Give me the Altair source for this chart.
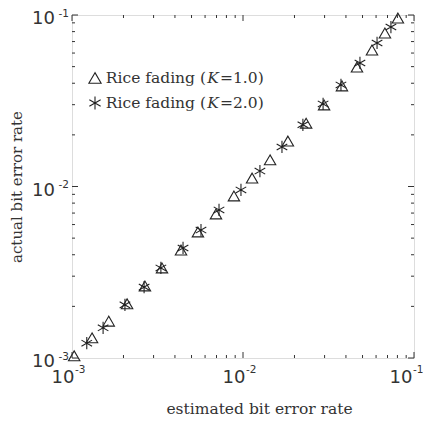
import altair as alt
import pandas as pd

# ---- data ----
tri_x = [1.03e-3, 1.31e-3, 1.64e-3, 2.10e-3, 2.67e-3, 3.36e-3, 4.34e-3, 5.45e-3, 6.95e-3, 8.85e-3,
         1.13e-2, 1.44e-2, 1.83e-2, 2.34e-2, 2.98e-2, 3.79e-2, 4.64e-2, 5.68e-2, 6.76e-2, 8.05e-2]
tri_y = [1.03e-3, 1.31e-3, 1.64e-3, 2.07e-3, 2.63e-3, 3.35e-3, 4.26e-3, 5.43e-3, 6.92e-3, 8.81e-3,
         1.12e-2, 1.43e-2, 1.84e-2, 2.34e-2, 2.99e-2, 3.86e-2, 4.97e-2, 6.25e-2, 7.85e-2, 9.6e-2]
ast_x = [1.22e-3, 1.52e-3, 2.04e-3, 2.64e-3, 3.31e-3, 4.46e-3, 5.68e-3, 7.24e-3, 9.73e-3,
         1.256e-2, 1.69e-2, 2.24e-2, 2.94e-2, 3.74e-2, 4.83e-2, 6.08e-2, 7.33e-2]
ast_y = [1.22e-3, 1.50e-3, 2.04e-3, 2.59e-3, 3.35e-3, 4.38e-3, 5.57e-3, 7.30e-3, 9.55e-3,
         1.23e-2, 1.70e-2, 2.29e-2, 3.03e-2, 3.91e-2, 5.25e-2, 6.87e-2, 8.51e-2]
series_names = ["Rice fading (K=1.0)", "Rice fading (K=2.0)"]
legend_pre = ["Rice fading (", "Rice fading ("]
legend_k = ["K", "K"]
legend_post = ["=1.0)", "=2.0)"]
major_ticks = [0.001, 0.01, 0.1]
major_base = ["10", "10", "10"]
major_exp = ["-3", "-2", "-1"]
minor_ticks = [m * 10.0 ** e for e in (-3, -2) for m in range(2, 10)]
x_title = "estimated bit error rate"
y_title = "actual bit error rate"

W, H = 342, 343
MAJ, MIN = 6, 3
INK = "#333333"
ASTERISK = "M0,-1L0,1M-0.866,-0.5L0.866,0.5M-0.866,0.5L0.866,-0.5"

xs = alt.Scale(type="log", domain=[0.001, 0.1], nice=False)
ys = alt.Scale(type="log", domain=[0.001, 0.1], nice=False)

pts = pd.DataFrame({
    "x": tri_x + ast_x,
    "y": tri_y + ast_y,
    "s": [series_names[0]] * len(tri_x) + [series_names[1]] * len(ast_x),
})

points = alt.Chart(pts).mark_point(filled=False, strokeWidth=1.1, color="#222222", opacity=1).encode(
    x=alt.X("x:Q", scale=xs, axis=alt.Axis(
        values=major_ticks, labels=False, ticks=False, domain=False, grid=False,
        title=x_title, titleFont="DejaVu Serif", titleFontSize=15.5, titleFontWeight="normal",
        titleColor=INK, titleBaseline="alphabetic", titleY=55, titleX=187)),
    y=alt.Y("y:Q", scale=ys, axis=alt.Axis(
        values=major_ticks, labels=False, ticks=False, domain=False, grid=False,
        title=y_title, titleFont="DejaVu Serif", titleFontSize=15, titleFontWeight="normal",
        titleColor=INK, titleBaseline="alphabetic", titleX=-51, titleY=H / 2)),
    shape=alt.Shape("s:N", scale=alt.Scale(domain=series_names, range=["triangle-up", ASTERISK]), legend=None),
    size=alt.Size("s:N", scale=alt.Scale(domain=series_names, range=[130, 150]), legend=None),
)

maj = pd.DataFrame({"x": major_ticks, "y": major_ticks, "b": major_base, "e": major_exp})
mnr = pd.DataFrame({"x": minor_ticks, "y": minor_ticks})


def tick_layers(df, L):
    base = alt.Chart(df).mark_rule(color=INK, strokeWidth=1)
    return [
        base.encode(x=alt.X("x:Q", scale=xs), y=alt.value(H), y2=alt.value(H - L)),
        base.encode(x=alt.X("x:Q", scale=xs), y=alt.value(0), y2=alt.value(L)),
        base.encode(y=alt.Y("y:Q", scale=ys), x=alt.value(0), x2=alt.value(L)),
        base.encode(y=alt.Y("y:Q", scale=ys), x=alt.value(W), x2=alt.value(W - L)),
    ]


# tick labels as 10 with superscript exponent
lab = alt.Chart(maj)
inner = lab.transform_filter("datum.x < 0.05")
edge = lab.transform_filter("datum.x > 0.05")


def x_labels(src, shift):
    return [
        src.mark_text(font="DejaVu Sans", fontSize=18, color=INK, align="right", baseline="alphabetic",
                      dx=2.5 + shift).encode(x=alt.X("x:Q", scale=xs), y=alt.value(H + 25), text="b:N"),
        src.mark_text(font="DejaVu Sans", fontSize=10.5, color=INK, align="left", baseline="alphabetic",
                      dx=3 + shift).encode(x=alt.X("x:Q", scale=xs), y=alt.value(H + 15), text="e:N"),
    ]


label_layers = x_labels(inner, 0) + x_labels(edge, -4) + [
    lab.mark_text(font="DejaVu Sans", fontSize=18, color=INK, align="right", baseline="alphabetic", dy=9)
       .encode(y=alt.Y("y:Q", scale=ys), x=alt.value(-17), text="b:N"),
    lab.mark_text(font="DejaVu Sans", fontSize=10.5, color=INK, align="right", baseline="alphabetic", dy=1.5)
       .encode(y=alt.Y("y:Q", scale=ys), x=alt.value(-3), text="e:N"),
]

one = pd.DataFrame({"a": [0]})
legend_layers = []
legend_shapes = ["triangle-up", ASTERISK]
for i in range(2):
    yy = 63 + 25 * i
    legend_layers.append(alt.Chart(one).mark_point(filled=False, strokeWidth=1.1, color="#222222",
                                                   opacity=1, shape=legend_shapes[i],
                                                   size=150 if i == 0 else 170).encode(
        x=alt.value(23), y=alt.value(yy)))
    legend_layers.append(alt.Chart(pd.DataFrame({"t": [legend_pre[i]]})).mark_text(
        font="DejaVu Serif", fontSize=15.5, color=INK, align="right", baseline="middle").encode(
        x=alt.value(134), y=alt.value(yy), text="t:N"))
    legend_layers.append(alt.Chart(pd.DataFrame({"t": [legend_k[i]]})).mark_text(
        font="DejaVu Serif", fontSize=15.5, fontStyle="italic", color=INK, align="center",
        baseline="middle").encode(x=alt.value(141), y=alt.value(yy), text="t:N"))
    legend_layers.append(alt.Chart(pd.DataFrame({"t": [legend_post[i]]})).mark_text(
        font="DejaVu Serif", fontSize=15.5, color=INK, align="left", baseline="middle").encode(
        x=alt.value(148), y=alt.value(yy), text="t:N"))

chart = alt.layer(points, *tick_layers(maj, MAJ), *tick_layers(mnr, MIN), *label_layers,
                  *legend_layers).properties(
    width=W, height=H,
    autosize=alt.AutoSizeParams(type="none"),
    padding={"left": 64, "top": 7, "right": 9, "bottom": 63},
).configure_view(stroke="#444444", strokeWidth=1.5).configure(background="white")

chart.save("out.html", embed_options={"renderer": "svg", "actions": False})
